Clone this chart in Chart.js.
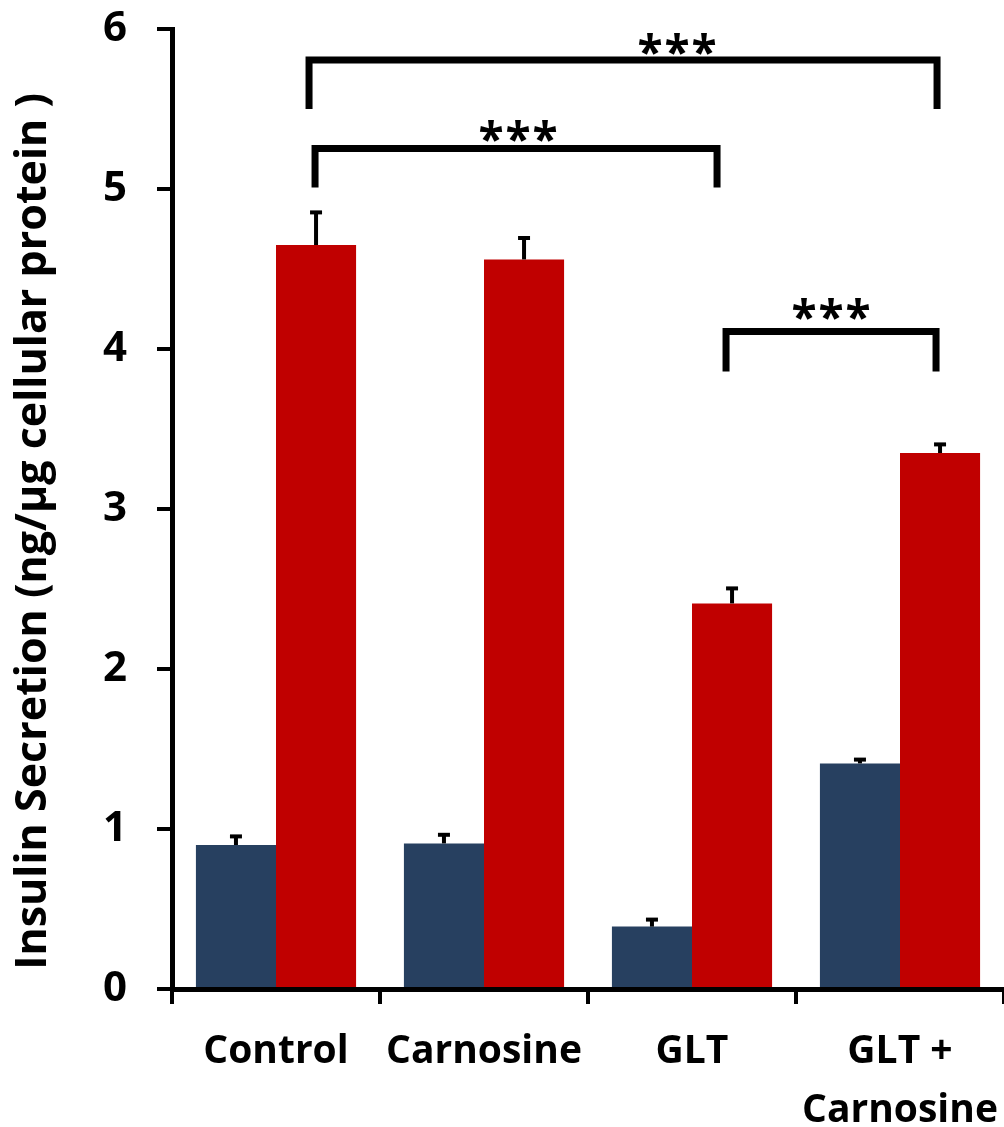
<!DOCTYPE html>
<html><head><meta charset="utf-8">
<script src="https://cdn.jsdelivr.net/npm/chart.js@4"></script>
<style>html,body{margin:0;padding:0;background:#fff}#wrap{width:1004px;height:1127px;position:relative}</style>
</head><body><div id="wrap"><canvas id="c" width="1004" height="1127"></canvas></div>
<script>
const categories = [["Control"], ["Carnosine"], ["GLT"], ["GLT +", "Carnosine"]];
const basalValues = [0.90, 0.91, 0.39, 1.41];
const basalErrors = [0.06, 0.06, 0.05, 0.03];
const stimValues = [4.65, 4.56, 2.41, 3.35];
const stimErrors = [0.21, 0.14, 0.10, 0.06];
const yTicks = [0, 1, 2, 3, 4, 5, 6];
// significance brackets: [fromCategory, toCategory, bracket top value, leg end value, label]
const brackets = [
  [0, 3, 5.806, 5.50, "***"],
  [0, 2, 5.253, 5.01, "***"],
  [2, 3, 4.11, 3.86, "***"]
];
// drawing style for brackets (pixel nudges): [leftInset, rightInset, labelDx, labelRise]
const bracketStyle = [
  [-7, -3, 54, 17],
  [-1, -15, 2, 19],
  [-6, -4, 0, 24]
];
const FONT = "'Open Sans', 'DejaVu Sans', sans-serif";

const errorPlugin = {
  id: 'errs',
  afterDatasetsDraw(chart) {
    const ctx = chart.ctx, y = chart.scales.y;
    const errs = [basalErrors, stimErrors];
    ctx.save();
    ctx.strokeStyle = '#000';
    chart.data.datasets.forEach((ds, di) => {
      chart.getDatasetMeta(di).data.forEach((bar, i) => {
        const top = y.getPixelForValue(ds.data[i] + errs[di][i]);
        ctx.lineWidth = 4;
        ctx.beginPath(); ctx.moveTo(bar.x, bar.y); ctx.lineTo(bar.x, top); ctx.stroke();
        ctx.beginPath(); ctx.moveTo(bar.x - 6, top + 1); ctx.lineTo(bar.x + 6, top + 1); ctx.stroke();
      });
    });
    const meta = chart.getDatasetMeta(1);
    ctx.lineWidth = 7;
    ctx.lineJoin = 'miter';
    ctx.fillStyle = '#000';
    ctx.font = "bold 46px " + FONT;
    ctx.textAlign = 'center';
    ctx.textBaseline = 'middle';
    brackets.forEach((b, k) => {
      const st = bracketStyle[k];
      const x1 = meta.data[b[0]].x + st[0], x2 = meta.data[b[1]].x + st[1];
      const yt = y.getPixelForValue(b[2]), yb = y.getPixelForValue(b[3]);
      ctx.beginPath(); ctx.moveTo(x1, yb); ctx.lineTo(x1, yt); ctx.lineTo(x2, yt); ctx.lineTo(x2, yb); ctx.stroke();
      const cx = (x1 + x2) / 2 + st[2], cy = yt - st[3];
      const chars = b[4].split('');
      chars.forEach((ch, j) => {
        ctx.fillText(ch, cx + (j - (chars.length - 1) / 2) * 27, cy + 13);
      });
    });
    ctx.restore();
  }
};

new Chart(document.getElementById('c'), {
  type: 'bar',
  data: {
    labels: categories,
    datasets: [
      { data: basalValues, backgroundColor: '#274060', borderWidth: 0 },
      { data: stimValues, backgroundColor: '#C00000', borderWidth: 0 }
    ]
  },
  options: {
    responsive: false, animation: false,
    layout: { padding: { top: 29, right: 0, left: 0, bottom: 0 } },
    plugins: { legend: { display: false }, tooltip: { enabled: false } },
    datasets: { bar: { categoryPercentage: 0.77, barPercentage: 1.0 } },
    scales: {
      x: {
        grid: { drawOnChartArea: false, color: '#000', lineWidth: 4, tickLength: 15 },
        border: { color: '#000', width: 5 },
        ticks: { color: '#000', font: { family: FONT, size: 39, weight: 'bold', lineHeight: 1.5 }, padding: 19, maxRotation: 0, autoSkip: false },
        afterFit(s) { s.height = 138; s.paddingLeft = 0; s.paddingRight = 0; }
      },
      y: {
        min: 0, max: 6,
        afterBuildTicks(s) { s.ticks = yTicks.map(v => ({ value: v })); },
        grid: { drawOnChartArea: false, color: '#000', lineWidth: 4, tickLength: 15 },
        border: { color: '#000', width: 5 },
        ticks: { color: '#000', font: { family: FONT, size: 42, weight: 'bold' }, padding: 30 },
        title: { display: true, text: 'Insulin Secretion (ng/µg cellular protein )    ', color: '#000', font: { family: FONT, size: 43, weight: 'bold' }, padding: { top: 8, bottom: 0 } },
        afterFit(s) { s.width = 172; s.paddingTop = 0; s.paddingBottom = 0; }
      }
    }
  },
  plugins: [errorPlugin]
});
</script></body></html>
